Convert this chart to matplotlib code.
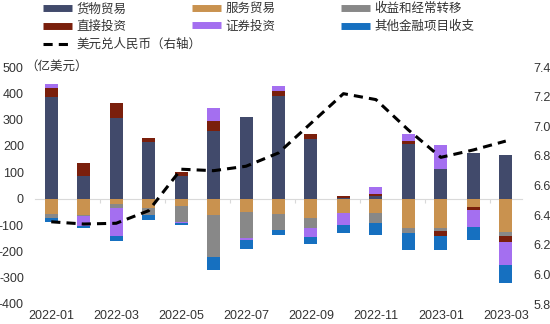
import numpy as np
import matplotlib
matplotlib.use("Agg")
import matplotlib.pyplot as plt
from matplotlib.lines import Line2D

plt.rcParams['font.family'] = ['Liberation Sans', 'Noto Sans CJK SC', 'DejaVu Sans']
plt.rcParams['axes.unicode_minus'] = False

# monthly data, 亿美元
months = ["2022-01", "2022-02", "2022-03", "2022-04", "2022-05", "2022-06", "2022-07",
          "2022-08", "2022-09", "2022-10", "2022-11", "2022-12", "2023-01", "2023-02", "2023-03"]
goods = [385, 85, 305, 215, 85, 258, 311, 390, 228, 4, 12, 208, 111, 175, 166]
services = [-57, -61, -22, -36, -29, -61, -52, -57, -72, -53, -55, -112, -112, -33, -125]
income = [-17, -4, -13, -25, -58, -160, -96, -62, -40, -2, -38, -17, -9, 0, -16]
direct = [35, 52, 60, 14, 15, 38, 0, 17, 18, 5, 4, 10, -21, -9, -25]
securities = [15, -37, -107, 3, -6, 50, -9, 19, -32, -45, 30, 28, 92, -66, -87]
other = [-15, -10, -20, -19, -6, -48, -36, -19, -29, -29, -44, -66, -53, -49, -68]
usdcny = [6.355, 6.34, 6.345, 6.43, 6.71, 6.70, 6.73, 6.82, 7.02, 7.22, 7.18, 6.975, 6.79, 6.84, 6.90]

series = [
    ("货物贸易", goods, "#414a6b"),
    ("服务贸易", services, "#c9924f"),
    ("收益和经常转移", income, "#888888"),
    ("直接投资", direct, "#7a1f0c"),
    ("证券投资", securities, "#a46ff0"),
    ("其他金融项目收支", other, "#1670c0"),
]

fig = plt.figure(figsize=(5.5, 3.24), dpi=100)
ax = fig.add_axes([35 / 550, 20 / 324, 487 / 550, 237 / 324])
x = np.arange(len(months))
pos_bottom = np.zeros(len(months))
neg_bottom = np.zeros(len(months))
for name, vals, color in series:
    v = np.array(vals, dtype=float)
    b = np.where(v >= 0, pos_bottom, neg_bottom)
    ax.bar(x, v, bottom=b, width=0.4, color=color, zorder=2)
    pos_bottom += np.where(v >= 0, v, 0)
    neg_bottom += np.where(v < 0, v, 0)

ax.set_xlim(-0.5, len(months) - 0.5)
ax.set_ylim(-400, 500)
ax.set_yticks(np.arange(-400, 501, 100))
ax.tick_params(axis='y', length=0, labelsize=9, labelcolor="#333333", pad=8)
for s in ["top", "right", "left"]:
    ax.spines[s].set_visible(False)
ax.spines["bottom"].set_position(("data", 0))
ax.spines["bottom"].set_color("#d9d9d9")
ax.spines["bottom"].set_zorder(1)
ax.set_xticks(np.arange(1.5, len(months) - 1, 2))
ax.set_xticklabels([])
ax.tick_params(axis='x', length=3, color="#d9d9d9", direction='out')

sec = ax.secondary_xaxis('bottom')
sec.set_xticks(x[::2])
sec.set_xticklabels(months[::2])
sec.tick_params(length=0, labelsize=9, labelcolor="#333333", pad=4)
sec.spines["bottom"].set_visible(False)

ax.annotate("（亿美元）", xy=(0, 500), xycoords=ax.get_yaxis_transform(),
            xytext=(-7, 0), textcoords="offset points", va="center", ha="left",
            fontsize=9, color="#333333")

ax2 = ax.twinx()
ax2.plot(x, usdcny, color="black", lw=2.2, linestyle=(0, (3, 2)), zorder=3)
ax2.set_ylim(5.8, 7.4)
ax2.set_yticks(np.arange(5.8, 7.41, 0.2))
ax2.yaxis.set_major_formatter(matplotlib.ticker.FormatStrFormatter("%.1f"))
ax2.tick_params(axis='y', length=0, labelsize=9, labelcolor="#333333", pad=8)
for s in ax2.spines.values():
    s.set_visible(False)

def handle(color):
    return Line2D([], [], color=color, lw=5, solid_capstyle="butt")

col_items = [
    [series[0], series[3], None],
    [series[1], series[4]],
    [series[2], series[5]],
]
col_x = [43, 192, 341]
for xs, items in zip(col_x, col_items):
    hs, ls = [], []
    for it in items:
        if it is None:
            hs.append(Line2D([], [], color="black", lw=2.2, linestyle=(0, (3, 2))))
            ls.append("美元兑人民币（右轴）")
        else:
            hs.append(handle(it[2]))
            ls.append(it[0])
    fig.legend(hs, ls, loc="upper left", bbox_to_anchor=(xs / 550, 1 - 3 / 324),
               frameon=False, fontsize=9, borderpad=0, borderaxespad=0,
               handlelength=2.3, handletextpad=0.35, labelspacing=0.45,
               labelcolor="#333333")

fig.savefig("out.png", dpi=100)
